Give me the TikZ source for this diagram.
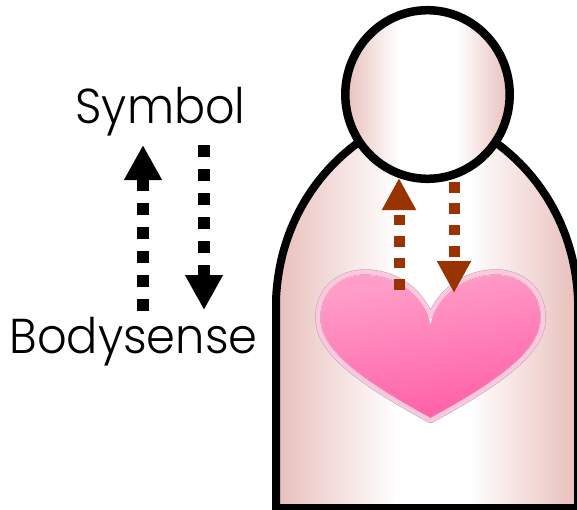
\documentclass[tikz,border=0pt]{standalone}
\usepackage{fontspec}
\setmainfont{Poppins Light}
\usetikzlibrary{arrows.meta}
\definecolor{brownarrow}{HTML}{993300}
\definecolor{skinedge}{HTML}{E8BFBB}
\definecolor{hbot}{HTML}{FF62A8}
\definecolor{htop}{HTML}{FF9CC8}
\definecolor{heartrim}{HTML}{FFC6E0}
\pgfdeclarehorizontalshading{skinshade}{100bp}{color(0bp)=(skinedge); color(25bp)=(skinedge); color(45bp)=(white); color(57bp)=(white); color(75bp)=(skinedge); color(100bp)=(skinedge)}
\pgfdeclarehorizontalshading{headshade}{100bp}{color(0bp)=(skinedge); color(25bp)=(skinedge); color(41bp)=(white); color(59bp)=(white); color(75bp)=(skinedge); color(100bp)=(skinedge)}
\pgfdeclareverticalshading{heartshade}{100bp}{color(0bp)=(hbot); color(28bp)=(hbot); color(72bp)=(htop); color(100bp)=(htop)}
\tikzset{
  outline/.style={draw=black,line width=8pt,shading=skinshade},
  headline/.style={draw=black,line width=8.5pt,shading=headshade},
  blackflow/.style={line width=12pt,dash pattern=on 12pt off 12pt,-{Triangle[length=35pt,width=35.5pt]},black},
  brownflow/.style={line width=11pt,dash pattern=on 10.6pt off 10.8pt,-{Triangle[length=32pt,width=32pt]},brownarrow},
  caption/.style={anchor=base,font=\fontsize{49}{49}\selectfont,inner sep=0pt,text=black}
}
\begin{document}
\begin{tikzpicture}[x=1pt,y=-1pt]
\useasboundingbox (0,0) rectangle (577,509);
\clip (0,0) rectangle (577,509);
\path[outline] (276,508) -- (276,300) .. controls (279,225) and (318,170) .. (362,140) -- (492,140) .. controls (536,170) and (575,225) .. (578,300) -- (578,508) -- cycle;
% heart
\def\heartpath{(430.5,316) .. controls (420,290) and (395,272) .. (365,272) .. controls (337,272) and (318,292) .. (318,316) .. controls (316,348) and (352,378) .. (430.5,420.5) .. controls (509,378) and (545,348) .. (543,316) .. controls (543,292) and (524,272) .. (496,272) .. controls (466,272) and (441,290) .. (430.5,316) -- cycle}
\draw[line width=5.5pt,draw=black!32,line join=round] \heartpath;
\draw[line width=4.5pt,draw=heartrim,line join=round] \heartpath;
\path[shading=heartshade,shading angle=10] (430.5,325) .. controls (425,295) and (395,275) .. (365,275) .. controls (339,275) and (321,294) .. (321,316) .. controls (319,346) and (354,376) .. (430.5,417.5) .. controls (507,376) and (542,346) .. (540,316) .. controls (540,294) and (522,275) .. (496,275) .. controls (466,275) and (436,295) .. (430.5,325) -- cycle;
\path[headline] (427.5,94.5) ellipse [x radius=82.2pt,y radius=84.3pt];
\node[caption] (symbol) at (160.5,123) {\scalebox{0.94}[1]{Symbol}};
\node[caption] (bodysense) at (133.5,353) {\scalebox{0.945}[1]{Bodysense}};
\coordinate (upfrom) at (143,311);
\coordinate (upto) at (143,145);
\coordinate (downfrom) at (204,145);
\coordinate (downto) at (204,310);
\coordinate (innerupfrom) at (399,289.5);
\coordinate (innerupto) at (399,178);
\coordinate (innerdownfrom) at (454,182);
\coordinate (innerdownto) at (454,293);
\draw[blackflow] (upfrom) -- (upto);
\draw[blackflow] (downfrom) -- (downto);
\draw[brownflow] (innerupfrom) -- (innerupto);
\draw[brownflow] (innerdownfrom) -- (innerdownto);
\end{tikzpicture}
\end{document}
